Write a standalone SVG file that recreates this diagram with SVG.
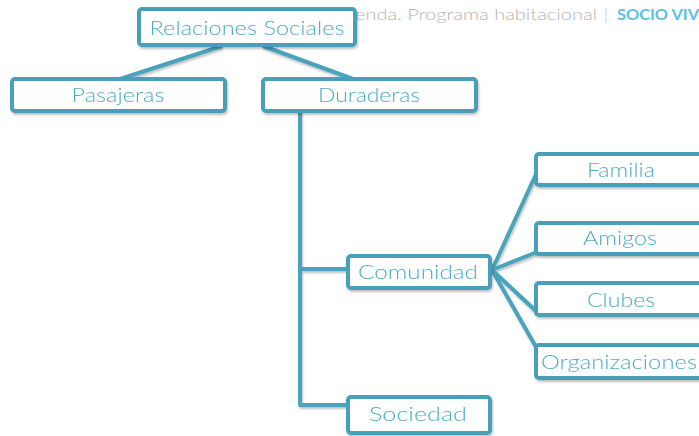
<svg xmlns="http://www.w3.org/2000/svg" width="699" height="436" viewBox="0 0 699 436">
<defs>
<filter id="sh" x="-10%" y="-10%" width="120%" height="140%">
<feDropShadow dx="1" dy="2" stdDeviation="1.2" flood-color="#000" flood-opacity="0.25"/>
</filter>
<style>
.box{fill:#fff;stroke:#4a9fb8;stroke-width:4}
.lbl{font-family:"Century Gothic","Lato","Liberation Sans",sans-serif;font-weight:300;font-size:20px;fill:#4bacc6;text-anchor:middle}
.con{stroke:#4aa3bc;stroke-width:4;fill:none;stroke-linejoin:round}
.hdr{font-family:"Century Gothic","Lato","Liberation Sans",sans-serif;font-weight:300;font-size:16px;fill:#b4b4b4}
</style>
</defs>
<rect width="699" height="436" fill="#fff"/>
<g id="header">
<text class="hdr" x="355" y="20" textLength="242" lengthAdjust="spacingAndGlyphs">enda. Programa habitacional</text>
<text class="hdr" x="604" y="20">|</text>
<text x="617" y="20" textLength="82" lengthAdjust="spacingAndGlyphs" style="font-family:'Century Gothic','Lato','Liberation Sans',sans-serif;font-size:16px;font-weight:bold;fill:#5bbfe0">SOCIO VIV</text>
</g>
<g id="connectors" filter="url(#sh)">
<path class="con" d="M222 46 L120 79"/>
<path class="con" d="M263 46 L353 79"/>
<path class="con" d="M300 111 V405 H348"/>
<path class="con" d="M300 269 H348"/>
<path class="con" d="M492 270 L537 172"/>
<path class="con" d="M492 270 L537 252"/>
<path class="con" d="M492 270 L537 312"/>
<path class="con" d="M492 270 L536 347"/>
</g>
<g id="n-relaciones" filter="url(#sh)">
<rect class="box" x="139" y="9" width="216" height="36" rx="3"/>
<text class="lbl" x="247" y="35" textLength="195" lengthAdjust="spacingAndGlyphs">Relaciones Sociales</text>
</g>
<g id="n-pasajeras" filter="url(#sh)">
<rect class="box" x="12" y="79" width="213" height="32" rx="3"/>
<text class="lbl" x="118" y="102" textLength="93" lengthAdjust="spacingAndGlyphs">Pasajeras</text>
</g>
<g id="n-duraderas" filter="url(#sh)">
<rect class="box" x="263" y="79" width="213" height="32" rx="3"/>
<text class="lbl" x="369" y="102" textLength="102" lengthAdjust="spacingAndGlyphs">Duraderas</text>
</g>
<g id="n-comunidad" filter="url(#sh)">
<rect class="box" x="348" y="256" width="142" height="32" rx="3"/>
<text class="lbl" x="418" y="279" textLength="120" lengthAdjust="spacingAndGlyphs">Comunidad</text>
</g>
<g id="n-sociedad" filter="url(#sh)">
<rect class="box" x="348" y="397" width="142" height="36" rx="3"/>
<text class="lbl" x="418" y="421" textLength="98" lengthAdjust="spacingAndGlyphs">Sociedad</text>
</g>
<g id="n-familia" filter="url(#sh)">
<rect class="box" x="536" y="154" width="172" height="31" rx="3"/>
<text class="lbl" x="621" y="177" textLength="68" lengthAdjust="spacingAndGlyphs">Familia</text>
</g>
<g id="n-amigos" filter="url(#sh)">
<rect class="box" x="536" y="223" width="172" height="31" rx="3"/>
<text class="lbl" x="620" y="245" textLength="74" lengthAdjust="spacingAndGlyphs">Amigos</text>
</g>
<g id="n-clubes" filter="url(#sh)">
<rect class="box" x="536" y="283" width="172" height="32" rx="3"/>
<text class="lbl" x="621" y="307" textLength="68" lengthAdjust="spacingAndGlyphs">Clubes</text>
</g>
<g id="n-organizaciones" filter="url(#sh)">
<rect class="box" x="536" y="345" width="172" height="33" rx="3"/>
<text class="lbl" x="619" y="369" textLength="156" lengthAdjust="spacingAndGlyphs">Organizaciones</text>
</g>
</svg>
